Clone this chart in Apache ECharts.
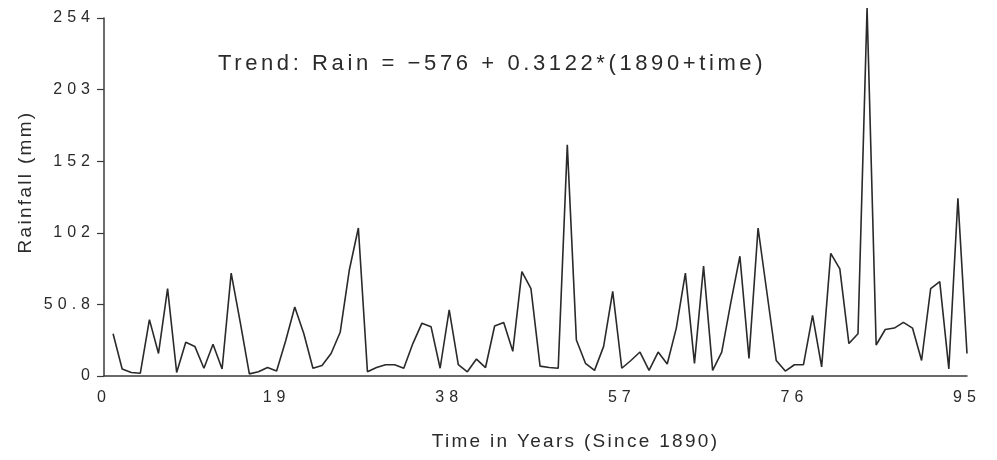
<!DOCTYPE html>
<html>
<head>
<meta charset="utf-8">
<script src="https://cdn.jsdelivr.net/npm/echarts@6/dist/echarts.min.js"></script>
<style>
  html, body { margin: 0; padding: 0; background: #fff; }
  #chart { width: 997px; height: 460px; }
</style>
</head>
<body>
<div id="chart"></div>
<script>
// years since 1890 (1..95) and yearly rainfall in mm
var years = [];
for (var y = 1; y <= 95; y++) years.push(y);

var rain = [
    30, 5, 2.5, 2, 40, 16, 62, 2.5, 24, 21,
    5.5, 22.5, 5, 73, 38, 1.5, 3, 6, 3.5, 25,
    49, 30, 5.5, 7.5, 16, 31, 75, 105, 3, 6,
    8, 8, 5.5, 23, 37.5, 35, 5.5, 47, 8, 3,
    12, 6, 35.5, 38, 17.5, 74, 62, 7, 6, 5.5,
    164, 25.5, 9, 4, 21, 60, 5.5, 11, 17, 4,
    17, 8.5, 34, 73, 9, 78, 4, 17, 52, 85,
    12.5, 105, 58, 11, 3.5, 8, 8, 43, 6.5, 87,
    76, 23, 30, 261, 22, 33, 34, 38, 34, 11,
    62, 67, 5, 126, 16
];

var yTickStep = 50.8;   // 2 inches in mm
var yTicks = ['0', '50.8', '102', '152', '203', '254'];
var trendText = 'Trend: Rain = \u2212576 + 0.3122*(1890+time)';

var points = years.map(function (yr, i) { return [yr, rain[i]]; });

// the original was drawn with a widely tracked plotter font:
// add letter spacing per font size when the canvas draws text
var tracking = { 16: '5px', 19: '2.3px', 22: '3.6px' };
var nativeFillText = CanvasRenderingContext2D.prototype.fillText;
CanvasRenderingContext2D.prototype.fillText = function (t, x, y, w) {
    var m = /(\d+)px/.exec(this.font);
    this.letterSpacing = (m && tracking[m[1]]) || '0px';
    return w === undefined ? nativeFillText.call(this, t, x, y)
                           : nativeFillText.call(this, t, x, y, w);
};

var chart = echarts.init(document.getElementById('chart'));
var ink = '#2a2a2a';

chart.setOption({
    animation: false,
    backgroundColor: '#fff',
    textStyle: { fontFamily: 'Liberation Sans, Arial, sans-serif' },
    grid: { left: 104, right: 30, top: 18, bottom: 84 },
    graphic: [{
        type: 'text',
        left: 218,
        top: 53,
        style: {
            text: trendText,
            fill: ink,
            font: '22px "Liberation Sans", Arial, sans-serif'
        }
    }],
    xAxis: {
        type: 'value',
        min: 0,
        max: 95,
        interval: 19,
        name: 'Time in Years (Since 1890)',
        nameLocation: 'middle',
        nameGap: 56,
        nameTextStyle: { color: ink, fontSize: 19, padding: [0, 0, 0, 80] },
        axisLine: { lineStyle: { color: '#3a3a3a', width: 1.5 } },
        axisTick: { show: false },
        splitLine: { show: false },
        axisLabel: { color: ink, fontSize: 16, margin: 14 }
    },
    yAxis: {
        type: 'value',
        min: 0,
        max: 254,
        interval: yTickStep,
        name: 'Rainfall (mm)',
        nameLocation: 'middle',
        nameGap: 69,
        nameTextStyle: { color: ink, fontSize: 19, padding: [0, 0, 0, 30] },
        axisLine: { show: true, lineStyle: { color: '#3a3a3a', width: 1.5 } },
        axisTick: { show: true, length: 7, lineStyle: { color: '#3a3a3a', width: 1.2 } },
        splitLine: { show: false },
        axisLabel: {
            color: ink,
            fontSize: 16,
            margin: 9,
            padding: [4, 0, 0, 0],
            formatter: function (v) {
                return yTicks[Math.round(v / yTickStep)];
            }
        }
    },
    series: [{
        type: 'line',
        data: points,
        showSymbol: false,
        clip: false,
        lineStyle: { color: ink, width: 1.6 }
    }]
});
</script>
</body>
</html>
